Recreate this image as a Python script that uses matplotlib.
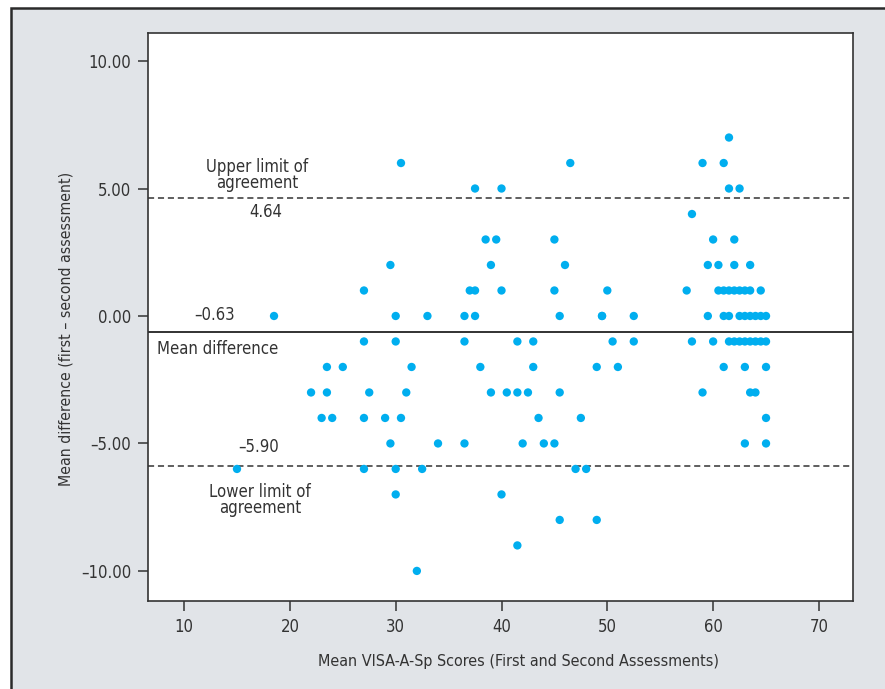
import matplotlib
matplotlib.use("Agg")
import matplotlib.pyplot as plt
from matplotlib.patches import Rectangle
from matplotlib.ticker import FuncFormatter

plt.rcParams['font.family'] = ['DejaVu Sans']
plt.rcParams['font.stretch'] = 'condensed'

# Bland-Altman data: mean score of both assessments and the difference (first - second)
mean_scores = [
    61.5,
    30.5, 46.5, 59, 61,
    37.5, 40, 61.5, 62.5,
    58,
    38.5, 39.5, 45, 60, 62,
    29.5, 39, 46, 59.5, 60.5, 62, 63.5,
    27, 37, 37.5, 40, 45, 50, 57.5, 60.5, 61, 61.5, 62, 62.5, 63, 63.5, 64.5,
    18.5, 30, 33, 36.5, 37.5, 45.5, 49.5, 49.5, 52.5, 59.5, 61, 61.5, 62.5, 63, 63.5, 64, 64.5, 65,
    27, 30, 36.5, 41.5, 43, 50.5, 52.5, 58, 60, 61.5, 62, 62.5, 63, 63.5, 64, 64.5, 65,
    23.5, 25, 31.5, 38, 43, 49, 51, 61, 63, 65,
    22, 23.5, 27.5, 31, 39, 40.5, 41.5, 42.5, 45.5, 59, 63.5, 64,
    23, 24, 27, 29, 30.5, 43.5, 47.5, 65,
    29.5, 34, 36.5, 42, 44, 45, 63, 65,
    15, 27, 30, 32.5, 47, 48,
    30, 40,
    45.5, 49,
    41.5,
    32,
]
differences = (
    [7] * 1 + [6] * 4 + [5] * 4 + [4] * 1 + [3] * 5 + [2] * 7 + [1] * 15 + [0] * 18
    + [-1] * 17 + [-2] * 10 + [-3] * 12 + [-4] * 8 + [-5] * 8 + [-6] * 6
    + [-7] * 2 + [-8] * 2 + [-9] * 1 + [-10] * 1
)

mean_diff = -0.63
upper_loa = 4.64
lower_loa = -5.90

x_ticks = [10, 20, 30, 40, 50, 60, 70]
y_ticks = [-10, -5, 0, 5, 10]

W, H = 885, 689
fig = plt.figure(figsize=(W / 100, H / 100), dpi=100)
fig.patch.set_facecolor('white')

# grey panel with dark top/left border
panel = Rectangle((11 / W, -0.1), 1.2, (H - 8) / H + 0.1, transform=fig.transFigure,
                  facecolor='#e1e4e8', edgecolor='#2a2a2a', linewidth=1.8, zorder=-5)
fig.patches.append(panel)

ax = fig.add_axes([148 / W, (H - 601) / H, 705 / W, 568 / H])
ax.set_facecolor('white')

ax.scatter(mean_scores, differences, s=36, color='#00aeef', edgecolors='none', zorder=3)

ax.axhline(mean_diff, color='#222222', linewidth=1.3, zorder=2)
ax.axhline(upper_loa, color='#333333', linewidth=1.1, linestyle=(0, (4, 2.5)), zorder=2)
ax.axhline(lower_loa, color='#333333', linewidth=1.1, linestyle=(0, (4, 2.5)), zorder=2)

tc = '#333333'
fs = 12
ax.text(16.9, 4.88, 'Upper limit of\nagreement', ha='center', va='bottom', fontsize=fs,
        color=tc, linespacing=0.85)
ax.text(17.7, 4.08, '4.64', ha='center', va='center', fontsize=fs, color=tc)
ax.text(12.9, 0.02, '\u20130.63', ha='center', va='center', fontsize=fs, color=tc)
ax.text(13.2, -1.3, 'Mean difference', ha='center', va='center', fontsize=fs, color=tc)
ax.text(17.0, -5.12, '\u20135.90', ha='center', va='center', fontsize=fs, color=tc)
ax.text(17.2, -6.55, 'Lower limit of\nagreement', ha='center', va='top', fontsize=fs,
        color=tc, linespacing=0.85)

ax.set_xlim(6.59, 73.22)
ax.set_ylim(-11.18, 11.1)
ax.set_xticks(x_ticks)
ax.set_yticks(y_ticks)
ax.yaxis.set_major_formatter(FuncFormatter(lambda v, p: f'{v:.2f}'.replace('-', '\u2013')))

for sp in ax.spines.values():
    sp.set_color('#333333')
    sp.set_linewidth(1.2)
ax.tick_params(direction='out', length=7, width=1.1, color='#333333',
               labelsize=fs, labelcolor=tc, pad=5)

ax.set_xlabel('Mean VISA-A-Sp Scores (First and Second Assessments)', fontsize=11.5,
              color=tc)
ax.set_ylabel('Mean difference (first \u2013 second assessment)', fontsize=11.3,
              color=tc)
ax.xaxis.set_label_coords(0.526, -0.094)
ax.yaxis.set_label_coords(-0.105, 0.479)

fig.savefig('out.png', dpi=100)
